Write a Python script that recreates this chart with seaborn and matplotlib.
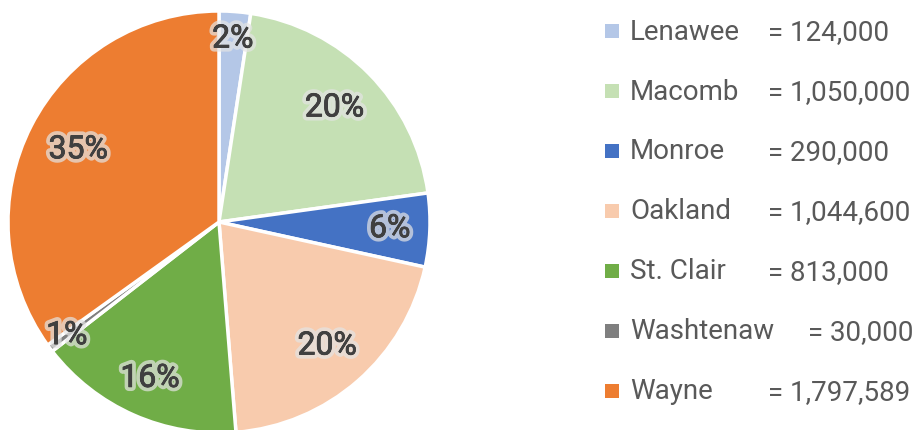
import numpy as np
import matplotlib
matplotlib.use('Agg')
import matplotlib.pyplot as plt
import matplotlib.patheffects as pe
import seaborn as sns

# Data
counties = ['Lenawee', 'Macomb', 'Monroe', 'Oakland', 'St. Clair', 'Washtenaw', 'Wayne']
population = [124000, 1050000, 290000, 1044600, 813000, 30000, 1797589]
colors = ['#b4c7e7', '#c5e0b4', '#4472c4', '#f8cbad', '#70ad47', '#7f7f7f', '#ed7d31']

# label distance from center (fraction of radius), mimics Excel "best fit"
label_radius = [0.87, 0.77, 0.81, 0.78, 0.81, 0.90, 0.75]

sns.set_theme(style='white')
plt.rcParams['font.family'] = ['Roboto', 'DejaVu Sans']

W, H = 923, 431
fig = plt.figure(figsize=(W / 100, H / 100), dpi=100)

# pie axes: center (219, 223) px, radius 211 px
cx, cy, r = 219, 223, 211
half = r * 1.01
ax = fig.add_axes([(cx - half) / W, (H - cy - half) / H, 2 * half / W, 2 * half / H])
palette = sns.color_palette(colors)
wedges, texts, autotexts = ax.pie(
    population, colors=palette, startangle=90, counterclock=False,
    autopct='%1.0f%%', wedgeprops=dict(edgecolor='white', linewidth=2.5),
    textprops=dict(fontsize=23, color='#404040', fontweight='normal'))
ax.set_xlim(-1.01, 1.01)
ax.set_ylim(-1.01, 1.01)

for w, t, rr in zip(wedges, autotexts, label_radius):
    theta = np.deg2rad((w.theta1 + w.theta2) / 2)
    t.set_position((rr * np.cos(theta), rr * np.sin(theta)))
    t.set_path_effects([pe.withStroke(linewidth=6, foreground='#e4e4e4', alpha=0.7),
                        pe.withStroke(linewidth=0.6, foreground='#404040'), pe.Normal()])

# legend drawn in pixel space on the right
leg = fig.add_axes([0, 0, 1, 1])
leg.set_xlim(0, W)
leg.set_ylim(H, 0)
leg.axis('off')
leg.patch.set_alpha(0)

x_sq, y0, dy = 612, 32, 60
x_name, x_val, gap = 630, 768, 34
fig.canvas.draw()
renderer = fig.canvas.get_renderer()
for i, (name, val, col) in enumerate(zip(counties, population, colors)):
    y = y0 + dy * i
    leg.scatter([x_sq], [y], marker='s', s=95, color=col, linewidths=0)
    t = leg.text(x_name, y, name, fontsize=20, color='#595959', va='center', ha='left')
    bb = t.get_window_extent(renderer)
    xv = x_val if bb.x1 < x_val - 15 else bb.x1 + gap
    leg.text(xv, y + 1, f'= {val:,}', fontsize=20, color='#595959', va='center', ha='left')

fig.savefig('out.png', dpi=100)
